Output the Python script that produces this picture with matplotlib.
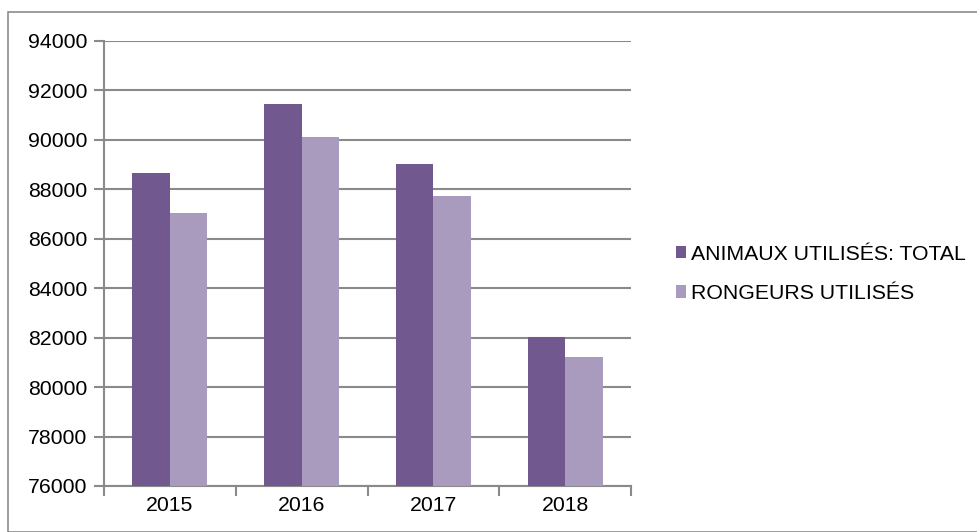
import numpy as np
import matplotlib.pyplot as plt
from matplotlib.patches import Rectangle

plt.rcParams['font.family'] = ['Liberation Sans', 'DejaVu Sans']

annees = ['2015', '2016', '2017', '2018']
total = [88680, 91470, 89020, 82010]
rongeurs = [87060, 90100, 87720, 81220]
series = ['ANIMAUX UTILISÉS: TOTAL', 'RONGEURS UTILISÉS']
couleurs = ['#71598F', '#A99BBE']

W, H = 977, 532
fig = plt.figure(figsize=(W / 100, H / 100), dpi=100)

# cadre du graphique
fig.patches.append(Rectangle((8 / W, 0), 1.2, 1 - 12 / H, transform=fig.transFigure,
                             fill=False, edgecolor='#8c8c8c', linewidth=1.2))

left, right, top, bottom = 104, 631, 41, 486
ax = fig.add_axes([left / W, 1 - bottom / H, (right - left) / W, (bottom - top) / H])

x = np.arange(len(annees))
largeur = 0.285
ax.bar(x - largeur / 2, total, largeur, color=couleurs[0], label=series[0], zorder=3)
ax.bar(x + largeur / 2, rongeurs, largeur, color=couleurs[1], label=series[1], zorder=3)

ax.set_ylim(76000, 94000)
ax.set_yticks(np.arange(76000, 94001, 2000))
ax.set_xlim(-0.5, len(annees) - 0.5)
ax.set_xticks(x)
ax.set_xticklabels(annees)
ax.set_xticks(np.arange(-0.5, len(annees)), minor=True)

ax.grid(axis='y', color='#8a8a8a', linewidth=1.5, zorder=0)
for s in ['top', 'right']:
    ax.spines[s].set_visible(False)
for s in ['left', 'bottom']:
    ax.spines[s].set_color('#8a8a8a')
    ax.spines[s].set_linewidth(1.5)

fs = 15.3
ax.tick_params(axis='y', length=7, width=1.5, color='#8a8a8a', labelsize=fs, pad=5)
ax.tick_params(axis='x', which='major', length=0, labelsize=fs, pad=7)
ax.tick_params(axis='x', which='minor', length=7, width=1.5, color='#8a8a8a')

leg = fig.legend(loc='center left', bbox_to_anchor=(667 / W, 1 - 274 / H), frameon=False,
                 fontsize=fs, handlelength=0.5, handleheight=0.5, handletextpad=0.25,
                 labelspacing=0.95, borderaxespad=0)

fig.savefig('out.png', dpi=100)
